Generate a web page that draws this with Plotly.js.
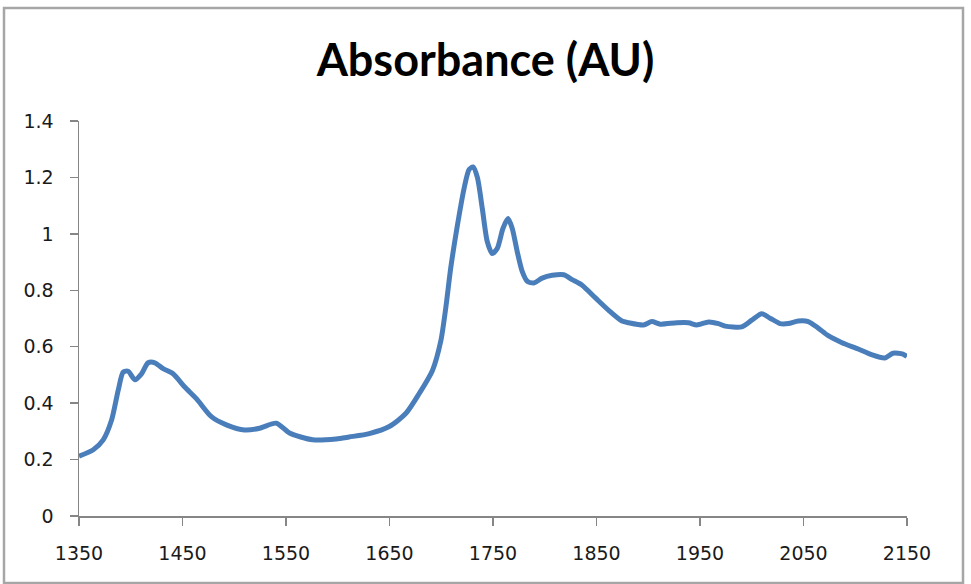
<!DOCTYPE html>
<html>
<head>
<meta charset="utf-8">
<script src="https://cdn.plot.ly/plotly-3.0.1.min.js"></script>
<style>
  html, body { margin: 0; padding: 0; background: #ffffff; }
  #chart { width: 971px; height: 584px; }
</style>
</head>
<body>
<div id="chart"></div>
<script>
// Wavenumber (x) and absorbance (y)
const wavenumber = [
  1350, 1363.8, 1373.4, 1381.5, 1387.9, 1392.7, 1397.5, 1404, 1410.4, 1416.8,
  1423.3, 1431.3, 1440.9, 1452.2, 1463.4, 1477.9, 1492.4, 1510, 1524.5, 1540.6,
  1553.4, 1575.8, 1598.4, 1611, 1630.5, 1649.8, 1665.9, 1678.7, 1691.5, 1699.6,
  1704.4, 1709.2, 1715.6, 1722, 1726.9, 1730.7, 1734.9, 1739.7, 1744.5, 1749.3,
  1754.1, 1759.6, 1764.5, 1768.6, 1773.4, 1778.2, 1783.1, 1789.5, 1797.5, 1807.2,
  1818.4, 1826.4, 1836.1, 1849, 1861.8, 1874.6, 1881, 1895.4, 1903.5, 1911.6,
  1927.6, 1938.9, 1946.9, 1958.2, 1967.8, 1974.3, 1990.3, 2000, 2009.6, 2017.7,
  2027.3, 2035.3, 2045, 2054.6, 2064.2, 2073.9, 2086.7, 2102.8, 2115.6, 2128.5,
  2136.5, 2146.1, 2150
];
const absorbance = [
  0.212, 0.235, 0.27, 0.34, 0.446, 0.51, 0.513, 0.483, 0.504, 0.543,
  0.543, 0.522, 0.504, 0.457, 0.416, 0.352, 0.323, 0.305, 0.311, 0.329,
  0.294, 0.27, 0.273, 0.28, 0.292, 0.317, 0.364, 0.434, 0.516, 0.621,
  0.738, 0.88, 1.03, 1.16, 1.228, 1.237, 1.2, 1.089, 0.972, 0.93,
  0.948, 1.019, 1.054, 1.019, 0.937, 0.867, 0.832, 0.826, 0.843, 0.853,
  0.855, 0.838, 0.818, 0.773, 0.729, 0.691, 0.685, 0.677, 0.689, 0.68,
  0.685, 0.685, 0.677, 0.688, 0.682, 0.673, 0.67, 0.694, 0.717, 0.701,
  0.682, 0.682, 0.691, 0.689, 0.666, 0.639, 0.615, 0.592, 0.572, 0.56,
  0.577, 0.574, 0.565
];
const xTickVals = [1350, 1450, 1550, 1650, 1750, 1850, 1950, 2050, 2150];
const yTickVals = [0, 0.2, 0.4, 0.6, 0.8, 1, 1.2, 1.4];
const yTickText = ["0", "0.2", "0.4", "0.6", "0.8", "1", "1.2", "1.4"];
const chartTitle = "Absorbance (AU)";

const trace = {
  x: wavenumber,
  y: absorbance,
  type: "scatter",
  mode: "lines",
  line: { color: "#4a7ebb", width: 5, shape: "spline", smoothing: 0.7 },
  hoverinfo: "x+y"
};

const axisColor = "#868686";
const tickFont = { family: "DejaVu Sans, Verdana, sans-serif", size: 19, color: "#1a1a1a" };

const layout = {
  width: 971,
  height: 584,
  paper_bgcolor: "#ffffff",
  plot_bgcolor: "#ffffff",
  showlegend: false,
  margin: { l: 79, r: 64, t: 121, b: 68, pad: 0 },
  title: {
    text: "<b>" + chartTitle + "</b>",
    font: { family: "Lato, Noto Sans, sans-serif", size: 45, color: "#000000" },
    x: 0.5, xref: "container", xanchor: "center",
    y: 1 - 60 / 584, yref: "container", yanchor: "middle"
  },
  xaxis: {
    range: [1350, 2150],
    tickmode: "array",
    tickvals: xTickVals,
    ticktext: xTickVals.map(String),
    showgrid: false,
    zeroline: false,
    showline: true,
    linecolor: axisColor,
    linewidth: 1.5,
    ticks: "outside",
    ticklen: 8,
    tickwidth: 1.5,
    tickcolor: axisColor,
    tickfont: tickFont,
    ticklabelstandoff: 12,
    fixedrange: true
  },
  yaxis: {
    range: [0, 1.4],
    tickmode: "array",
    tickvals: yTickVals,
    ticktext: yTickText,
    showgrid: false,
    zeroline: false,
    showline: true,
    linecolor: axisColor,
    linewidth: 1.5,
    ticks: "outside",
    ticklen: 8,
    tickwidth: 1.5,
    tickcolor: axisColor,
    tickfont: tickFont,
    ticklabelstandoff: 12,
    fixedrange: true
  },
  shapes: [{
    type: "rect",
    xref: "paper", yref: "paper",
    x0: (4 - 79) / 828, x1: (963 - 79) / 828,
    y0: (516 - 583) / 395, y1: (516 - 8) / 395,
    line: { color: "#a6a6a6", width: 2.5 },
    fillcolor: "rgba(0,0,0,0)",
    layer: "below"
  }]
};

Plotly.newPlot("chart", [trace], layout, { staticPlot: true, displayModeBar: false });
</script>
</body>
</html>
